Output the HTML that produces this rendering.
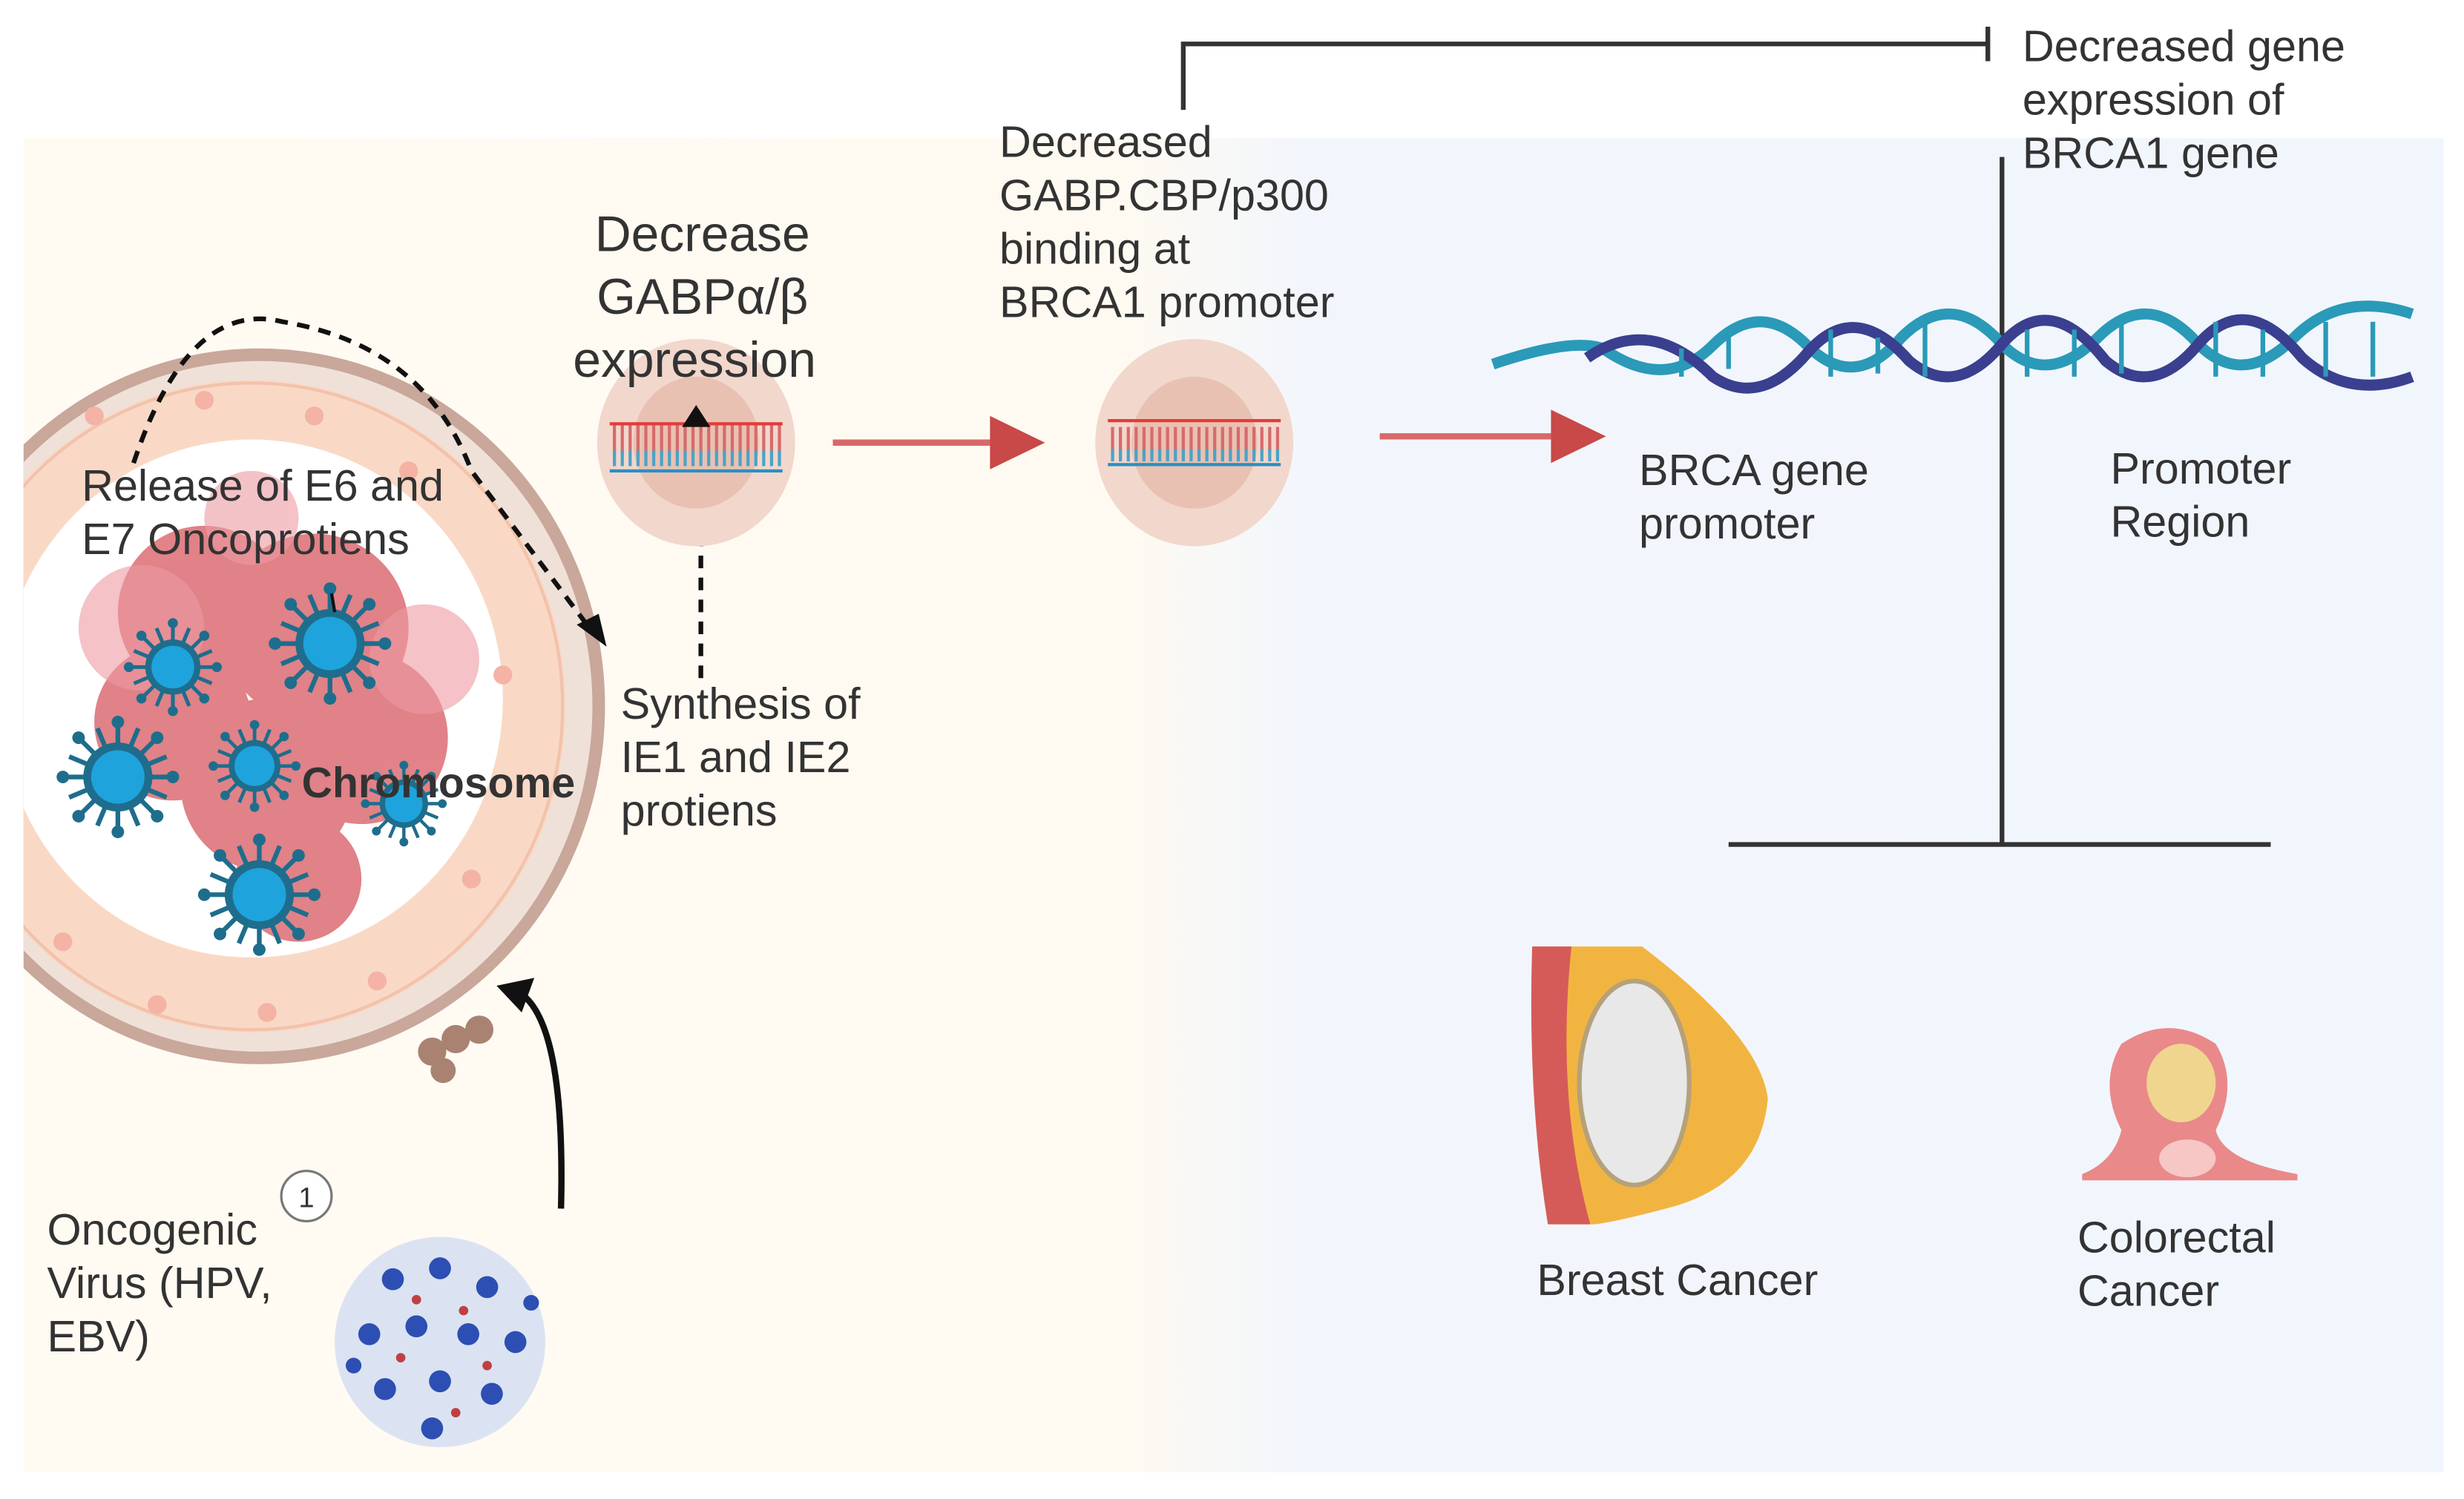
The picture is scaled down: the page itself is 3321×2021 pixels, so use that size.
<!DOCTYPE html>
<html><head><meta charset="utf-8"><style>
html,body{margin:0;padding:0;background:#fff}
svg{display:block}
text{font-family:"Liberation Sans",sans-serif;fill:#333}
</style></head><body>
<svg width="3321" height="2021" viewBox="0 0 1568 955" preserveAspectRatio="none" xmlns="http://www.w3.org/2000/svg">
<defs>
<linearGradient id="bg" x1="0" x2="1" y1="0" y2="0">
<stop offset="0" stop-color="#fffbf2"/><stop offset="0.45" stop-color="#fffaf1"/><stop offset="0.53" stop-color="#f2f6fc"/><stop offset="1" stop-color="#f1f6fd"/>
</linearGradient>
<clipPath id="pc"><rect x="15" y="88" width="1540" height="850"/></clipPath>
<g id="vir">
<g stroke="#1f6d8c" stroke-width="3">
<line x1="0" y1="-34" x2="0" y2="34"/><line x1="-34" y1="0" x2="34" y2="0"/>
<line x1="-24" y1="-24" x2="24" y2="24"/><line x1="-24" y1="24" x2="24" y2="-24"/>
<line x1="-13" y1="-31" x2="13" y2="31"/><line x1="-31" y1="-13" x2="31" y2="13"/>
<line x1="13" y1="-31" x2="-13" y2="31"/><line x1="31" y1="-13" x2="-31" y2="13"/>
</g>
<g fill="#1f6d8c"><circle cx="0" cy="-35" r="4"/><circle cx="0" cy="35" r="4"/><circle cx="35" cy="0" r="4"/><circle cx="-35" cy="0" r="4"/><circle cx="25" cy="25" r="4"/><circle cx="-25" cy="25" r="4"/><circle cx="25" cy="-25" r="4"/><circle cx="-25" cy="-25" r="4"/></g>
<circle r="22" fill="#1f6d8c"/><circle r="17" fill="#1ea3dc"/>
</g>
</defs>
<rect width="1568" height="955" fill="#fff"/>
<rect x="15" y="88" width="1540" height="850" fill="url(#bg)"/>
<g clip-path="url(#pc)">
<ellipse cx="165" cy="450" rx="220" ry="228" fill="#c9a79b"/>
<ellipse cx="165" cy="450" rx="212" ry="220" fill="#efe1d8"/>
<ellipse cx="160" cy="450" rx="200" ry="208" fill="#f9d9c6"/>
<ellipse cx="160" cy="450" rx="198" ry="206" fill="none" stroke="#f2c2ab" stroke-width="2"/>
<ellipse cx="160" cy="445" rx="160" ry="165" fill="#fff"/>
<g fill="#f4b3a5">
<circle cx="60" cy="265" r="6"/><circle cx="130" cy="255" r="6"/><circle cx="200" cy="265" r="6"/><circle cx="260" cy="300" r="6"/><circle cx="320" cy="430" r="6"/><circle cx="300" cy="560" r="6"/><circle cx="240" cy="625" r="6"/><circle cx="170" cy="645" r="6"/><circle cx="100" cy="640" r="6"/><circle cx="40" cy="600" r="6"/>
</g>
<g fill="#d9646a" opacity="0.8">
<circle cx="130" cy="390" r="55"/><circle cx="200" cy="400" r="60"/><circle cx="230" cy="470" r="55"/><circle cx="170" cy="500" r="55"/><circle cx="110" cy="460" r="50"/><circle cx="190" cy="560" r="40"/>
</g>
<g fill="#ec9aa2" opacity="0.6"><circle cx="90" cy="400" r="40"/><circle cx="270" cy="420" r="35"/><circle cx="160" cy="330" r="30"/></g>
<use href="#vir" transform="translate(110 425) scale(0.8)"/>
<use href="#vir" transform="translate(210 410)"/>
<use href="#vir" transform="translate(75 495)"/>
<use href="#vir" transform="translate(162 488) scale(0.75)"/>
<use href="#vir" transform="translate(257 512) scale(0.7)"/>
<use href="#vir" transform="translate(165 570)"/>
<g fill="#a98272"><circle cx="275" cy="670" r="9"/><circle cx="290" cy="662" r="9"/><circle cx="305" cy="656" r="9"/><circle cx="282" cy="682" r="8"/></g>
</g>
<path d="M85 295 Q120 190 180 205 Q270 220 300 300 L375 400" fill="none" stroke="#111" stroke-width="3" stroke-dasharray="8,6"/>
<polygon points="367,398 386,412 381,391" fill="#111"/>
<line x1="446" y1="432" x2="446" y2="270" stroke="#111" stroke-width="3" stroke-dasharray="8,6"/>
<polygon points="437,272 455,272 446,255" fill="#111"/>
<line x1="213" y1="390" x2="211" y2="378" stroke="#111" stroke-width="2"/>
<path d="M357 770 Q360 650 330 632" fill="none" stroke="#111" stroke-width="4"/>
<polygon points="316,628 340,623 332,645" fill="#111"/>
<ellipse cx="443" cy="282" rx="63" ry="66" fill="#f2d7cc"/>
<ellipse cx="443" cy="282" rx="40" ry="42" fill="#e9c1b2"/>
<line x1="388" y1="270" x2="498" y2="270" stroke="#e23b3b" stroke-width="2"/>
<line x1="388" y1="300" x2="498" y2="300" stroke="#2a8fc0" stroke-width="2"/>
<line x1="390" y1="280" x2="498" y2="280" stroke="#d86a6a" stroke-width="18" stroke-dasharray="2,3"/>
<line x1="390" y1="292" x2="498" y2="292" stroke="#4aa3c8" stroke-width="10" stroke-dasharray="2,3"/>
<polygon points="434,272 452,272 443,258" fill="#111"/>
<ellipse cx="760" cy="282" rx="63" ry="66" fill="#f2d7cc"/>
<ellipse cx="760" cy="282" rx="40" ry="42" fill="#e9c1b2"/>
<line x1="705" y1="268" x2="815" y2="268" stroke="#e23b3b" stroke-width="2"/>
<line x1="705" y1="296" x2="815" y2="296" stroke="#2a8fc0" stroke-width="2"/>
<line x1="707" y1="280" x2="815" y2="280" stroke="#d86a6a" stroke-width="16" stroke-dasharray="2,3"/>
<line x1="707" y1="290" x2="815" y2="290" stroke="#4aa3c8" stroke-width="8" stroke-dasharray="2,3"/>
<line x1="530" y1="282" x2="635" y2="282" stroke="#d96868" stroke-width="4"/>
<polygon points="630,265 665,282 630,299" fill="#c94848"/>
<line x1="878" y1="278" x2="990" y2="278" stroke="#d96868" stroke-width="4"/>
<polygon points="987,261 1022,278 987,295" fill="#c94848"/>
<polyline points="753,70 753,28 1265,28" fill="none" stroke="#333" stroke-width="3"/>
<line x1="1265" y1="17" x2="1265" y2="39" stroke="#333" stroke-width="3"/>
<line x1="1274" y1="100" x2="1274" y2="538" stroke="#333" stroke-width="3"/>
<line x1="1100" y1="538" x2="1445" y2="538" stroke="#333" stroke-width="3"/>
<path d="M950 232 Q1000 215 1020 222 Q1060 250 1090 220 Q1120 190 1150 220 Q1180 250 1210 215 Q1240 185 1270 215 Q1300 250 1335 215 Q1365 185 1395 215 Q1425 250 1460 215 Q1490 185 1535 200" fill="none" stroke="#2a9ab8" stroke-width="7"/>
<path d="M1010 228 Q1050 200 1090 240 Q1120 260 1150 225 Q1180 190 1215 230 Q1245 255 1275 218 Q1305 185 1340 230 Q1370 255 1400 218 Q1430 185 1465 228 Q1495 255 1535 240" fill="none" stroke="#3a3f8f" stroke-width="7"/>
<g stroke="#2a9ab8" stroke-width="3">
<line x1="1070" y1="222" x2="1070" y2="240"/><line x1="1100" y1="215" x2="1100" y2="235"/><line x1="1165" y1="210" x2="1165" y2="240"/><line x1="1195" y1="215" x2="1195" y2="238"/><line x1="1225" y1="205" x2="1225" y2="240"/><line x1="1290" y1="210" x2="1290" y2="240"/><line x1="1320" y1="210" x2="1320" y2="240"/><line x1="1350" y1="205" x2="1350" y2="238"/><line x1="1410" y1="205" x2="1410" y2="240"/><line x1="1440" y1="210" x2="1440" y2="240"/><line x1="1480" y1="205" x2="1480" y2="240"/><line x1="1510" y1="205" x2="1510" y2="240"/>
</g>
<path d="M975 603 L1045 603 Q1120 660 1125 700 Q1120 755 1060 770 Q1030 778 1015 780 L985 780 Q975 700 975 603 Z" fill="#f2b441"/>
<path d="M975 603 L1000 603 Q990 700 1012 780 L985 780 Q972 700 975 603 Z" fill="#d55b59"/>
<ellipse cx="1040" cy="690" rx="35" ry="65" fill="#e8e8e8" stroke="#b5a17a" stroke-width="3"/>
<path d="M1325 748 Q1345 740 1350 720 Q1335 690 1350 665 Q1380 645 1410 665 Q1425 690 1410 720 Q1415 740 1462 748 L1462 752 L1325 752 Z" fill="#e9898a"/>
<ellipse cx="1388" cy="690" rx="22" ry="25" fill="#f0d58e"/>
<ellipse cx="1392" cy="738" rx="18" ry="12" fill="#f6c7c5"/>
<circle cx="280" cy="855" r="67" fill="#dbe3f2"/>
<g fill="#2d4fb3">
<circle cx="250" cy="815" r="7"/><circle cx="280" cy="808" r="7"/><circle cx="310" cy="820" r="7"/><circle cx="235" cy="850" r="7"/><circle cx="265" cy="845" r="7"/><circle cx="298" cy="850" r="7"/><circle cx="328" cy="855" r="7"/><circle cx="245" cy="885" r="7"/><circle cx="280" cy="880" r="7"/><circle cx="313" cy="888" r="7"/><circle cx="275" cy="910" r="7"/><circle cx="225" cy="870" r="5"/><circle cx="338" cy="830" r="5"/>
</g>
<g fill="#c04040"><circle cx="265" cy="828" r="3"/><circle cx="295" cy="835" r="3"/><circle cx="255" cy="865" r="3"/><circle cx="310" cy="870" r="3"/><circle cx="290" cy="900" r="3"/></g>
<circle cx="195" cy="762" r="16" fill="#fff" stroke="#777" stroke-width="1.5"/>
<text x="195" y="769" font-size="18" text-anchor="middle">1</text>
<g font-size="28">
<text x="1287" y="39">Decreased gene</text>
<text x="1287" y="73">expression of</text>
<text x="1287" y="107">BRCA1 gene</text>
<text x="636" y="100">Decreased</text>
<text x="636" y="134">GABP.CBP/p300</text>
<text x="636" y="168">binding at</text>
<text x="636" y="202">BRCA1 promoter</text>
<text x="1043" y="309">BRCA gene</text>
<text x="1043" y="343">promoter</text>
<text x="1343" y="308">Promoter</text>
<text x="1343" y="342">Region</text>
<text x="52" y="319">Release of E6 and</text>
<text x="52" y="353">E7 Oncoprotiens</text>
<text x="395" y="458">Synthesis of</text>
<text x="395" y="492">IE1 and IE2</text>
<text x="395" y="526">protiens</text>
<text x="30" y="793">Oncogenic</text>
<text x="30" y="827">Virus (HPV,</text>
<text x="30" y="861">EBV)</text>
<text x="978" y="825">Breast Cancer</text>
<text x="1322" y="798">Colorectal</text>
<text x="1322" y="832">Cancer</text>
</g>
<g font-size="32">
<text x="447" y="160" text-anchor="middle">Decrease</text>
<text x="447" y="200" text-anchor="middle">GABPα/β</text>
<text x="442" y="240" text-anchor="middle">expression</text>
</g>
<text x="192" y="508" font-size="27" font-weight="bold" fill="#333">Chromosome</text>
</svg>
</body></html>
